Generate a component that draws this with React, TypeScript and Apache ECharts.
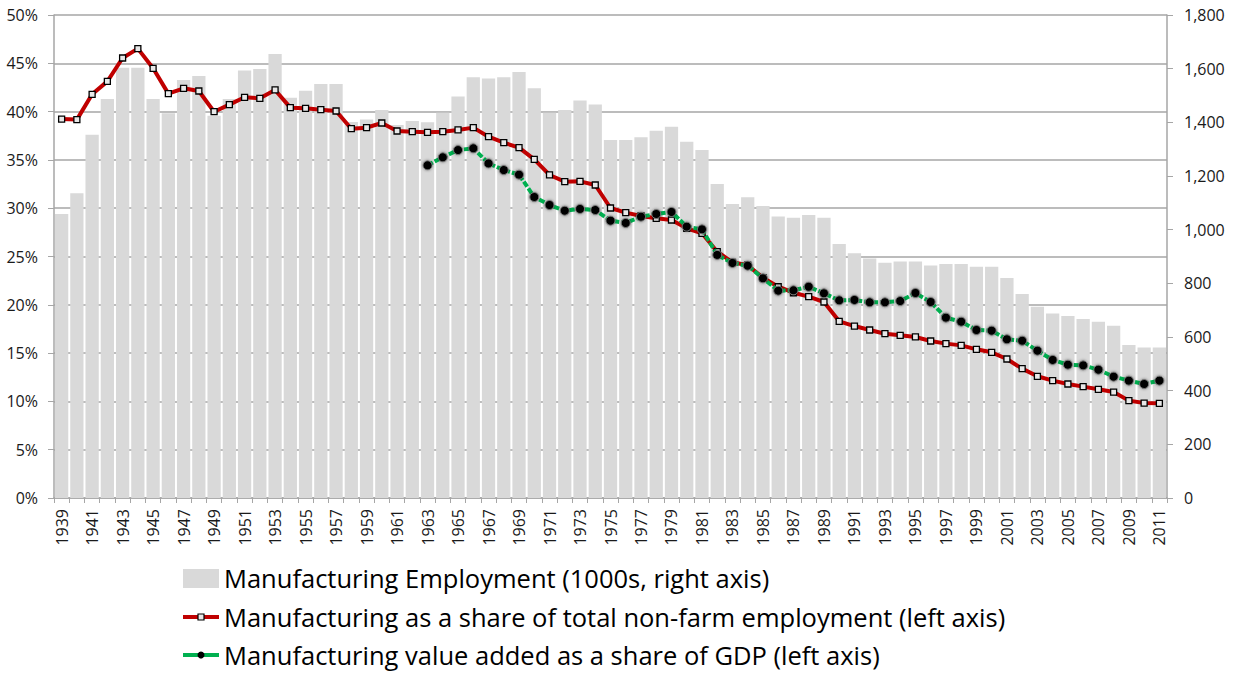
import React, { useEffect, useRef } from "react";
import * as echarts from "echarts";

// Years on the category axis
const years: string[] = [];
for (let y = 1939; y <= 2011; y++) years.push(String(y));

// Manufacturing employment, thousands (right axis)
const employment = [
  1058, 1136, 1354, 1487, 1603, 1603, 1487, 1434, 1558, 1573,
  1425, 1487, 1593, 1599, 1655, 1492, 1518, 1543, 1543, 1401,
  1411, 1446, 1390, 1405, 1400, 1436, 1496, 1568, 1563, 1568,
  1588, 1527, 1436, 1446, 1481, 1466, 1334, 1334, 1344, 1369,
  1384, 1328, 1297, 1170, 1096, 1121, 1088, 1049, 1044, 1055,
  1044, 947, 912, 893, 877, 881, 881, 866, 872, 872,
  862, 862, 820, 760, 713, 688, 678, 667, 657, 642,
  570, 561, 561,
];

// Manufacturing share of total non-farm employment, % (left axis), 1939-2011
const employmentShare = [
  39.23, 39.17, 41.79, 43.13, 45.55, 46.52, 44.48, 41.86, 42.41, 42.13,
  39.99, 40.72, 41.48, 41.37, 42.24, 40.41, 40.34, 40.2, 40.06, 38.23,
  38.34, 38.82, 37.99, 37.92, 37.85, 37.92, 38.1, 38.34, 37.4, 36.78,
  36.27, 35.06, 33.44, 32.75, 32.78, 32.4, 30.02, 29.54, 29.19, 28.95,
  28.78, 27.92, 27.4, 25.5, 24.4, 24.1, 22.8, 21.87, 21.25, 20.84,
  20.29, 18.29, 17.8, 17.39, 17.01, 16.84, 16.67, 16.25, 15.98, 15.8,
  15.39, 15.08, 14.39, 13.39, 12.6, 12.15, 11.8, 11.53, 11.25, 10.97,
  10.08, 9.83, 9.8,
];

// Manufacturing value added as a share of GDP, % (left axis), 1963-2011
const gdpShareStartYear = 1963;
const gdpShare = [
  34.44, 35.27, 36.02, 36.2, 34.64, 33.95, 33.47, 31.16, 30.33, 29.74,
  29.92, 29.81, 28.71, 28.47, 29.12, 29.4, 29.61, 28.09, 27.81, 25.16,
  24.33, 24.05, 22.74, 21.46, 21.5, 21.87, 21.19, 20.46, 20.5, 20.26,
  20.26, 20.39, 21.22, 20.29, 18.67, 18.25, 17.39, 17.32, 16.43, 16.28,
  15.25, 14.29, 13.8, 13.73, 13.28, 12.56, 12.15, 11.8, 12.15,
];

const legendLabels = [
  "Manufacturing Employment (1000s, right axis)",
  "Manufacturing as a share of total non-farm employment (left axis)",
  "Manufacturing value added as a share of GDP (left axis)",
];

const FONT = "'Open Sans', 'Noto Sans', sans-serif";
const BAR = "#d9d9d9";
const RED = "#c00000";
const GREEN = "#00b050";
const GRID_GRAY = "#a6a6a6";

export default function App() {
  const ref = useRef<HTMLDivElement>(null);

  useEffect(() => {
    if (!ref.current) return;
    const chart = echarts.init(ref.current, undefined, { renderer: "svg" });

    const pad = years.indexOf(String(gdpShareStartYear));
    const gdpSeries = [...new Array(pad).fill(null), ...gdpShare];

    const axisLabelStyle = { fontFamily: FONT, fontSize: 16, color: "#1a1a1a" };

    const legendX = 183;
    const legendTextX = 224;
    const rowY = [578, 617, 655];

    chart.setOption({
      animation: false,
      backgroundColor: "#ffffff",
      grid: {
        left: 54,
        right: 67,
        top: 15,
        bottom: 181,
        containLabel: false,
        outerBoundsMode: "none",
      },
      xAxis: {
        type: "category",
        data: years,
        boundaryGap: true,
        axisLine: { show: true, lineStyle: { color: GRID_GRAY, width: 1.5 } },
        axisTick: { show: true, interval: 0, length: 5, lineStyle: { color: GRID_GRAY } },
        axisLabel: { ...axisLabelStyle, interval: 1, rotate: 90, margin: 11 },
        splitLine: { show: false },
      },
      yAxis: [
        {
          type: "value",
          min: 0,
          max: 50,
          interval: 5,
          position: "left",
          axisLine: { show: true, lineStyle: { color: GRID_GRAY, width: 1.5 } },
          axisTick: { show: true, length: 6, lineStyle: { color: GRID_GRAY } },
          axisLabel: { ...axisLabelStyle, margin: 16, formatter: "{value}%" },
          splitLine: { show: true, lineStyle: { color: GRID_GRAY, width: 1.5 } },
        },
        {
          type: "value",
          min: 0,
          max: 1800,
          interval: 200,
          position: "right",
          axisLine: { show: true, lineStyle: { color: GRID_GRAY, width: 1.5 } },
          axisTick: { show: true, length: 6, lineStyle: { color: GRID_GRAY } },
          axisLabel: {
            ...axisLabelStyle,
            margin: 17,
            formatter: (v: number) => v.toLocaleString("en-US"),
          },
          splitLine: { show: false },
        },
      ],
      series: [
        {
          name: legendLabels[0],
          type: "bar",
          yAxisIndex: 1,
          data: employment,
          barCategoryGap: "13%",
          itemStyle: { color: BAR },
        },
        {
          name: legendLabels[1],
          type: "line",
          yAxisIndex: 0,
          data: employmentShare,
          symbol: "rect",
          symbolSize: 6,
          lineStyle: { color: RED, width: 4 },
          itemStyle: { color: "#e8e8e8", borderColor: "#000", borderWidth: 1.3 },
          z: 3,
        },
        {
          name: legendLabels[2],
          type: "line",
          yAxisIndex: 0,
          data: gdpSeries,
          symbol: "circle",
          symbolSize: 9,
          lineStyle: { color: GREEN, width: 4, type: [6, 2] },
          itemStyle: {
            color: "#000",
            borderColor: "#7a7a7a",
            borderWidth: 1,
            shadowBlur: 3,
            shadowColor: "rgba(0,0,0,0.45)",
          },
          z: 4,
        },
      ],
      graphic: [
        {
          type: "rect",
          shape: { x: legendX, y: rowY[0] - 9, width: 36, height: 19 },
          style: { fill: BAR },
        },
        {
          type: "line",
          shape: { x1: legendX, y1: rowY[1], x2: legendX + 36, y2: rowY[1] },
          style: { stroke: RED, lineWidth: 4 },
        },
        {
          type: "rect",
          shape: { x: legendX + 15, y: rowY[1] - 3, width: 6, height: 6 },
          style: { fill: "#e8e8e8", stroke: "#000", lineWidth: 1.2 },
        },
        {
          type: "line",
          shape: { x1: legendX, y1: rowY[2], x2: legendX + 36, y2: rowY[2] },
          style: { stroke: GREEN, lineWidth: 4 },
        },
        {
          type: "circle",
          shape: { cx: legendX + 18, cy: rowY[2], r: 3.5 },
          style: { fill: "#000" },
        },
        ...legendLabels.map((t, i) => ({
          type: "text",
          x: legendTextX,
          y: rowY[i],
          style: {
            text: t,
            fontFamily: FONT,
            fontSize: 25.5,
            fill: "#000",
            textVerticalAlign: "middle",
            verticalAlign: "middle",
          },
        })),
      ],
    });

    return () => chart.dispose();
  }, []);

  return (
    <div
      ref={ref}
      style={{ position: "fixed", left: 0, top: 0, width: 1234, height: 679 }}
    />
  );
}
